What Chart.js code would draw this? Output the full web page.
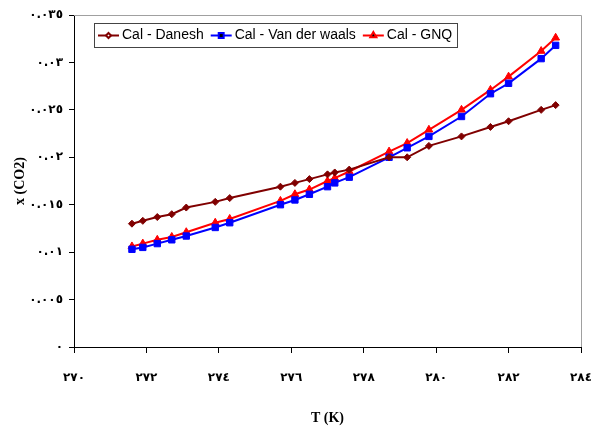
<!DOCTYPE html>
<html>
<head>
<meta charset="utf-8">
<script src="https://cdn.jsdelivr.net/npm/chart.js@4.4.1/dist/chart.umd.min.js"></script>
<style>
  html, body { margin: 0; padding: 0; background: #fff; }
  #wrap { width: 591px; height: 430px; }
</style>
</head>
<body>
<div id="wrap"><canvas id="chart" width="591" height="430"></canvas></div>
<script>
// temperatures (K), shared by all three series
const temps = [271.6, 271.9, 272.3, 272.7, 273.1, 273.9, 274.3, 275.7, 276.1, 276.5, 277.0,
  277.2, 277.6, 278.7, 279.2, 279.8, 280.7, 281.5, 282.0, 282.9, 283.3];

const xDanesh = [0.0130, 0.0133, 0.0137, 0.0140, 0.0147, 0.0153, 0.0157, 0.0169, 0.0173, 0.0177, 0.0182,
  0.0184, 0.0187, 0.0200, 0.0200, 0.0212, 0.0222, 0.0232, 0.0238, 0.0250, 0.0255];

const xVanDerWaals = [0.0103, 0.0105, 0.0109, 0.0113, 0.0117, 0.0126, 0.0131, 0.0150, 0.0155, 0.0161, 0.0169,
  0.0173, 0.0179, 0.0200, 0.0210, 0.0222, 0.0243, 0.0267, 0.0278, 0.0304, 0.0318];

const xGnq = [0.0106, 0.0109, 0.0113, 0.0116, 0.0121, 0.0131, 0.0135, 0.0154, 0.0161, 0.0166, 0.0175,
  0.0178, 0.0185, 0.0206, 0.0215, 0.0229, 0.0250, 0.0271, 0.0285, 0.0312, 0.0326];

const xTickLabels = ["٢٧٠", "٢٧٢", "٢٧٤", "٢٧٦", "٢٧٨", "٢٨٠", "٢٨٢", "٢٨٤"];
const yTickLabels = ["٠", "٠.٠٠٥", "٠.٠١", "٠.٠١٥", "٠.٠٢", "٠.٠٢٥", "٠.٠٣", "٠.٠٣٥"];

const toPoints = (ys) => ys.map((y, i) => ({ x: temps[i], y }));

const tickFont = { family: "DejaVu Sans", size: 12, weight: "bold" };
const titleFont = { family: "Liberation Serif", size: 14, weight: "bold" };

// top and right frame lines are light grey
const frame = {
  id: "frame",
  beforeDatasetsDraw(chart) {
    const { ctx, chartArea: a } = chart;
    ctx.save();
    ctx.strokeStyle = "#a0a0a0";
    ctx.lineWidth = 1;
    ctx.beginPath();
    ctx.moveTo(a.left, a.top + 0.5);
    ctx.lineTo(a.right + 0.5, a.top + 0.5);
    ctx.lineTo(a.right + 0.5, a.bottom);
    ctx.stroke();
    ctx.restore();
  },
};

// boxed legend inside the plot
const boxLegend = {
  id: "boxLegend",
  afterDatasetsDraw(chart) {
    const { ctx } = chart;
    const x0 = 94, y0 = 23, w = 363, h = 24;
    ctx.save();
    ctx.fillStyle = "#fff";
    ctx.fillRect(x0, y0, w, h);
    ctx.strokeStyle = "#444";
    ctx.lineWidth = 1;
    ctx.strokeRect(x0 + 0.5, y0 + 0.5, w, h);
    ctx.font = "14px 'Liberation Sans'";
    ctx.textBaseline = "middle";
    let x = x0 + 4;
    const cy = y0 + h / 2 + 0.5;
    chart.data.datasets.forEach((ds) => {
      ctx.strokeStyle = ds.borderColor;
      ctx.lineWidth = 2;
      ctx.beginPath();
      ctx.moveTo(x, cy);
      ctx.lineTo(x + 21, cy);
      ctx.stroke();
      Chart.helpers.drawPoint(ctx, {
        pointStyle: ds.pointStyle, radius: ds.pointRadius - 1, borderWidth: 1, rotation: 0,
      }, x + 10.5, cy);
      ctx.fillStyle = "#000";
      ctx.fillText(ds.label, x + 24, cy);
      x += 24 + ctx.measureText(ds.label).width + 7;
    });
    ctx.restore();
  },
};

const series = (label, color, style, radius, ys) => ({
  label,
  data: toPoints(ys),
  borderColor: color,
  backgroundColor: color,
  pointStyle: style,
  pointRadius: radius,
  pointBorderWidth: 1,
  borderWidth: 2,
  tension: 0,
});

new Chart(document.getElementById("chart"), {
  type: "line",
  data: {
    datasets: [
      series("Cal - Danesh", "#800000", "rectRot", 3.5, xDanesh),
      series("Cal - Van der waals", "#0000ff", "rect", 4.5, xVanDerWaals),
      series("Cal - GNQ", "#ff0000", "triangle", 4.5, xGnq),
    ],
  },
  options: {
    responsive: false,
    animation: false,
    layout: { padding: { top: 15, right: 10, left: 0, bottom: 0 } },
    plugins: { legend: { display: false }, tooltip: { enabled: false } },
    scales: {
      x: {
        type: "linear",
        min: 270,
        max: 284,
        afterFit: (s) => {
          s.height = 83;
          s.paddingLeft = 0;
          s.paddingRight = 0;
        },
        ticks: {
          stepSize: 2,
          color: "#000",
          font: tickFont,
          padding: 18,
          maxRotation: 0,
          callback: (v, i) => xTickLabels[i],
        },
        grid: { drawOnChartArea: false, color: "#000", tickLength: 6 },
        border: { color: "#000", width: 1 },
        title: { display: true, text: "T (K)", color: "#000", font: titleFont, padding: { top: 0, bottom: 3 } },
      },
      y: {
        min: 0,
        max: 0.035,
        afterFit: (s) => { s.width = 74; },
        ticks: {
          stepSize: 0.005,
          color: "#000",
          font: tickFont,
          padding: 6,
          callback: (v, i) => yTickLabels[i],
        },
        grid: { drawOnChartArea: false, color: "#000", tickLength: 5 },
        border: { color: "#000", width: 1 },
        title: { display: true, text: "x (CO2)", color: "#000", font: titleFont, padding: { top: 12, bottom: 0 } },
      },
    },
  },
  plugins: [frame, boxLegend],
});
</script>
</body>
</html>
